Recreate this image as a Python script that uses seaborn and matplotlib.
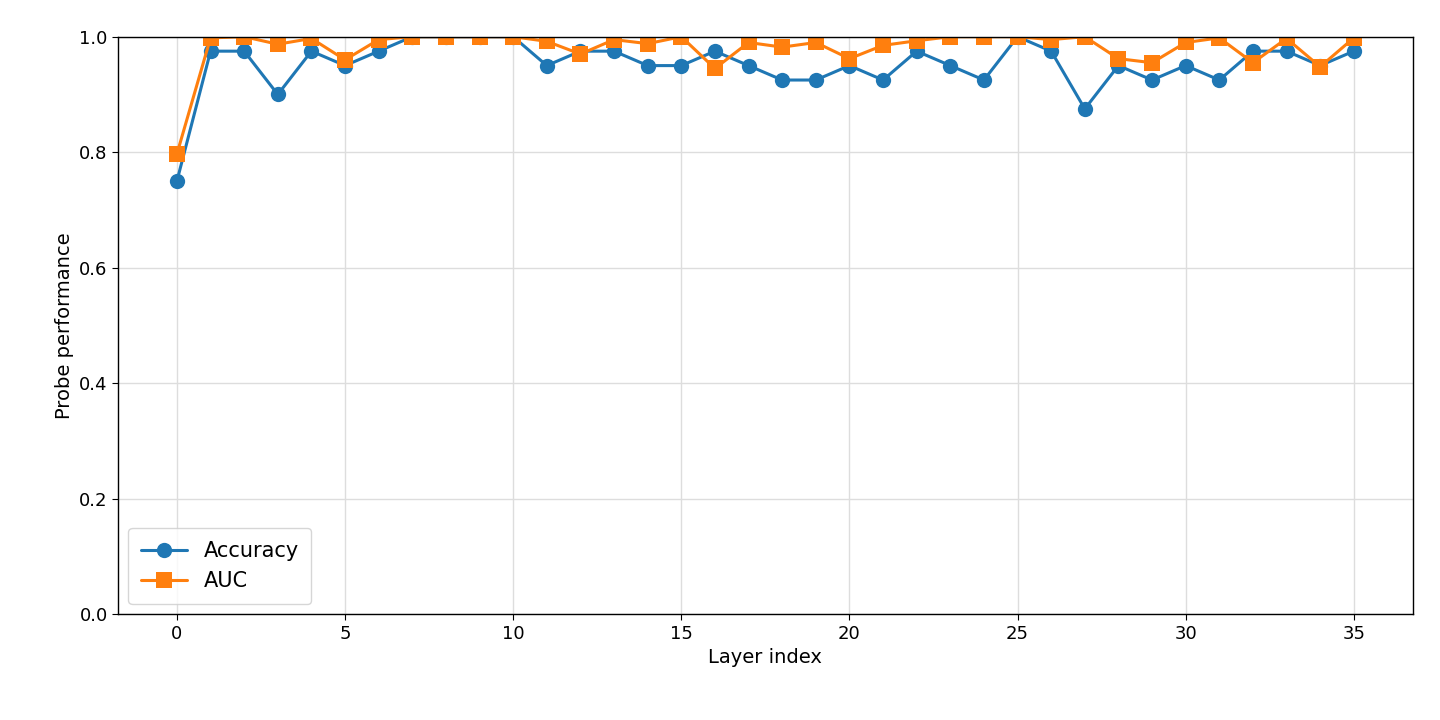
import matplotlib
matplotlib.use("Agg")
import matplotlib.pyplot as plt
import seaborn as sns
import pandas as pd

layers = list(range(36))
accuracy = [0.75,0.975,0.975,0.9,0.975,0.95,0.975,1,1,1,1,0.95,0.975,0.975,0.95,0.95,0.975,0.95,0.925,0.925,
            0.95,0.925,0.975,0.95,0.925,1,0.975,0.875,0.95,0.925,0.95,0.925,0.975,0.975,0.95,0.975]
auc = [0.797,0.998,1.0,0.987,0.997,0.96,0.995,1,1,1,1,0.992,0.97,0.995,0.988,1.0,0.945,0.99,0.982,0.99,
       0.962,0.985,0.993,1,1,1,0.995,1,0.962,0.955,0.99,0.998,0.955,0.997,0.948,0.998]

sns.set_style("white")
plt.rcParams['font.family'] = ['DejaVu Sans']
plt.rcParams['text.color'] = 'black'
plt.rcParams['axes.labelcolor'] = 'black'
plt.rcParams['xtick.color'] = 'black'
plt.rcParams['ytick.color'] = 'black'
fig, ax = plt.subplots(figsize=(14.4, 7.2), dpi=100)
df = pd.DataFrame({"layer": layers, "acc": accuracy, "auc": auc})
sns.lineplot(data=df, x="layer", y="acc", marker="o", markersize=11, linewidth=2.2, color="#1f77b4",
             markeredgewidth=0, label="Accuracy", ax=ax, clip_on=True)
sns.lineplot(data=df, x="layer", y="auc", marker="s", markersize=11, linewidth=2.2, color="#ff7f0e",
             markeredgewidth=0, label="AUC", ax=ax, clip_on=True)
for ln in ax.lines:
    ln.set_clip_on(True)
ax.set_ylim(0, 1.0)
ax.set_xlim(-1.75, 36.75)
ax.set_xticks(range(0, 36, 5))
ax.grid(True, color="#dddddd", linewidth=1)
for s in ax.spines.values():
    s.set_color("black"); s.set_linewidth(1)
ax.tick_params(labelsize=13, length=4, bottom=True, left=True)
ax.set_xlabel("Layer index", fontsize=14)
ax.set_ylabel("Probe performance", fontsize=14)
ax.legend(loc="lower left", fontsize=15, frameon=True, handlelength=2.2, borderpad=0.6)
fig.subplots_adjust(left=0.082, right=0.981, top=0.949, bottom=0.147)
fig.savefig("out.png", dpi=100)
